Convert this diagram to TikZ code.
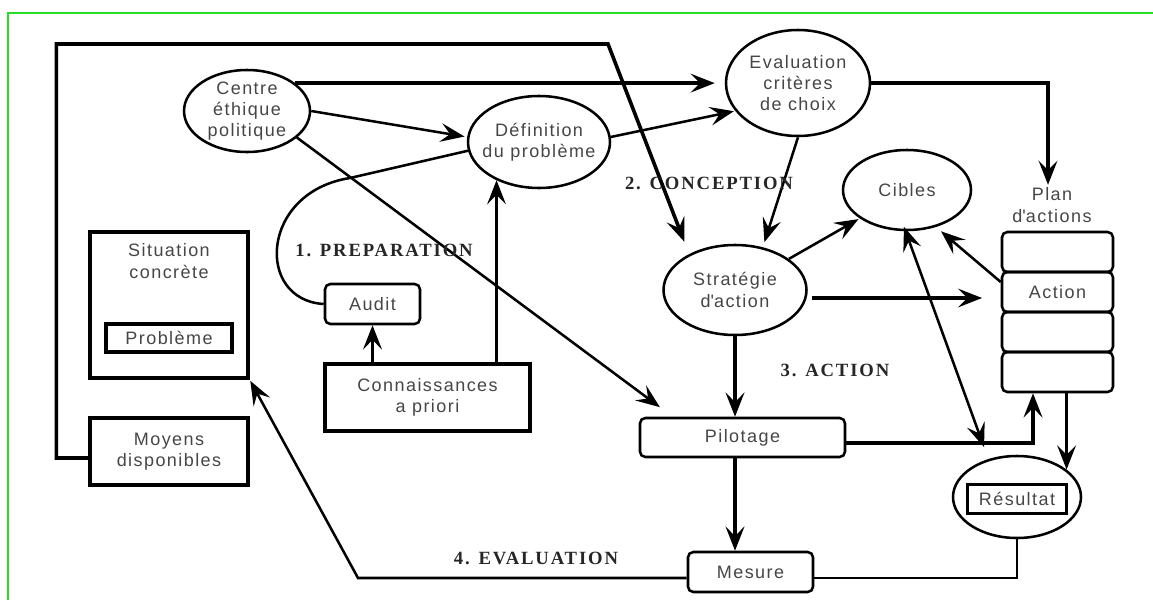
\documentclass[tikz,border=0pt]{standalone}
\usepackage{fontspec}
\setmainfont{Liberation Serif}
\newfontfamily\lab[LetterSpace=8]{Liberation Sans}
\newfontfamily\phs[LetterSpace=10]{Liberation Serif}
\usetikzlibrary{shapes.geometric,arrows.meta,calc}
\definecolor{txtgray}{RGB}{70,70,70}
\definecolor{frame}{RGB}{40,220,40}
\begin{document}
\begin{tikzpicture}[x=0.75pt,y=-0.75pt,
  >={Stealth[length=18pt,width=14pt,inset=7pt]},
  txt/.style={font=\lab\fontsize{13.5}{16}\selectfont, text=txtgray, align=center, inner sep=0pt},
  ell/.style={draw, ellipse, line width=1.9pt, inner sep=0pt},
  box/.style={draw, rectangle, line width=2.5pt, inner sep=0pt, txt},
  rbox/.style={draw, rectangle, rounded corners=4pt, line width=1.9pt, inner sep=0pt, txt},
  fine/.style={line width=1.9pt},
  heavy/.style={line width=2.7pt},
  arr/.style={->},
  darr/.style={<->},
  phase/.style={font=\phs\bfseries\fontsize{14}{16}\selectfont, text=black!85, inner sep=0pt}
]
\fill[white] (0,0) rectangle (1153,600);
\useasboundingbox (0,0) rectangle (1153,600);
\draw[frame, line width=1.2pt] (8,600) -- (8,13) -- (1153,13);

% ellipses
\node[ell, minimum width=94.5pt, minimum height=61.5pt, label={[txt]center:{Centre\\éthique\\politique}}] (cen) at (247,111) {};
\node[ell, minimum width=108pt, minimum height=79.5pt, label={[txt]center:{Evaluation\\critères\\de choix}}] (eva) at (798,83) {};
\node[ell, minimum width=106.5pt, minimum height=69pt, label={[txt]center:{Définition\\du problème}}] (def) at (539,142) {};
\node[ell, minimum width=107.25pt, minimum height=67.5pt, label={[txt]center:{Stratégie\\d\textquotesingle action}}] (strat) at (735,290) {};
\node[ell, minimum width=96pt, minimum height=60pt, label={[txt]center:{Cibles}}] (cib) at (907,190) {};
\node[ell, minimum width=96pt, minimum height=61.5pt] (res) at (1017,497) {};
\node[box, minimum width=74.25pt, minimum height=21.75pt] (resin) at (1017,499) {Résultat};

% boxes
\node[box, minimum width=118.5pt, minimum height=109.5pt] (sit) at (169,305) {};
\node[txt] (sitt) at (169,261) {Situation\\concrète};
\node[box, minimum width=94.5pt, minimum height=21pt] (prob) at (169,338) {Problème};
\node[box, minimum width=118.5pt, minimum height=50.25pt] (moy) at (169,451.5) {Moyens\\disponibles};
\node[rbox, minimum width=71.25pt, minimum height=30pt] (aud) at (372.5,304) {Audit};
\node[box, minimum width=153.75pt, minimum height=50.25pt] (con) at (427.5,397.5) {Connaissances\\a priori};
\node[rbox, minimum width=153.75pt, minimum height=29.25pt] (pil) at (742.5,437.5) {Pilotage};
\node[rbox, minimum width=93.75pt, minimum height=30pt] (mes) at (750.5,572) {Mesure};
\node[rbox, minimum width=83.25pt, minimum height=30pt] (a1) at (1057.5,252) {};
\node[rbox, minimum width=83.25pt, minimum height=30pt] (a2) at (1057.5,292) {Action};
\node[rbox, minimum width=83.25pt, minimum height=30pt] (a3) at (1057.5,332) {};
\node[rbox, minimum width=83.25pt, minimum height=30pt] (a4) at (1057.5,372) {};
\node[txt] (planlab) at (1052,205) {Plan\\d\textquotesingle actions};

% coordinates
\coordinate (lpc) at (608,44);
\coordinate (ev) at (358,578);
\coordinate (cv) at (350,178);
\coordinate (sa) at ($(strat.east)+(0,8)$);

% connectors
\draw[heavy,arr,shorten >=10pt] ($(moy.west)+(0,6.5)$) -- ++(-32,0) |- (lpc) -- (strat.142);
\draw[heavy,arr,shorten >=7.5pt] (cen.30) -- (cen.30 -| eva.west);
\draw[fine,arr,shorten >=2pt] (cen.east) -- (def.176);
\draw[fine,arr,shorten >=1pt] (def.4) -- (eva.204);
\draw[heavy,arr] (eva.east) -| ([xshift=-3pt,yshift=2pt]planlab.north);
\draw[fine,arr,shorten >=4pt] (eva.south) -- (strat.57);
\draw[fine,arr,shorten >=12pt] (cen.-28) -- ($(pil.north west)+(34,0)$);
\draw[fine] (aud.west) .. controls (255,300) and (260,192) .. (cv) -- (def.187);
\draw[heavy,arr] (aud.south |- con.north) -- (aud.south);
\draw[fine,arr] (def.222 |- con.north) -- (def.222);
\draw[fine,arr,shorten >=1pt] ($(mes.west)+(0,6)$) -- (ev) -- (sit.south east);
\draw[fine] (res.south) |- ($(mes.east)+(0,6)$);
\draw[heavy,arr] (strat.south) -- (strat.south |- pil.north);
\draw[heavy,arr] (strat.south |- pil.south) -- (strat.south |- mes.north);
\draw[fine,arr,shorten >=1pt] (strat.30) -- (cib.211);
\draw[heavy,arr,shorten <=3pt,shorten >=14pt] (sa) -- (sa -| a2.west);
\draw[fine,arr,shorten >=5pt] ($(a2.west)+(0,-10)$) -- (cib.-52);
\draw[fine,darr,shorten <=-3.5pt,shorten >=9.5pt] (cib.268) -- (res.127);
\draw[heavy,arr] ($(pil.east)+(0,5.5)$) -| ($(a4.south)+(-24.5,0)$);
\draw[heavy,arr] (res.29 |- a4.south) -- (res.29);

% phase labels
\node[phase] (ph1) at (384,250) {1. PREPARATION};
\node[phase] (ph2) at (709,183) {2. CONCEPTION};
\node[phase] (ph3) at (835,370) {3. ACTION};
\node[phase] (ph4) at (536,558) {4. EVALUATION};
\end{tikzpicture}
\end{document}
